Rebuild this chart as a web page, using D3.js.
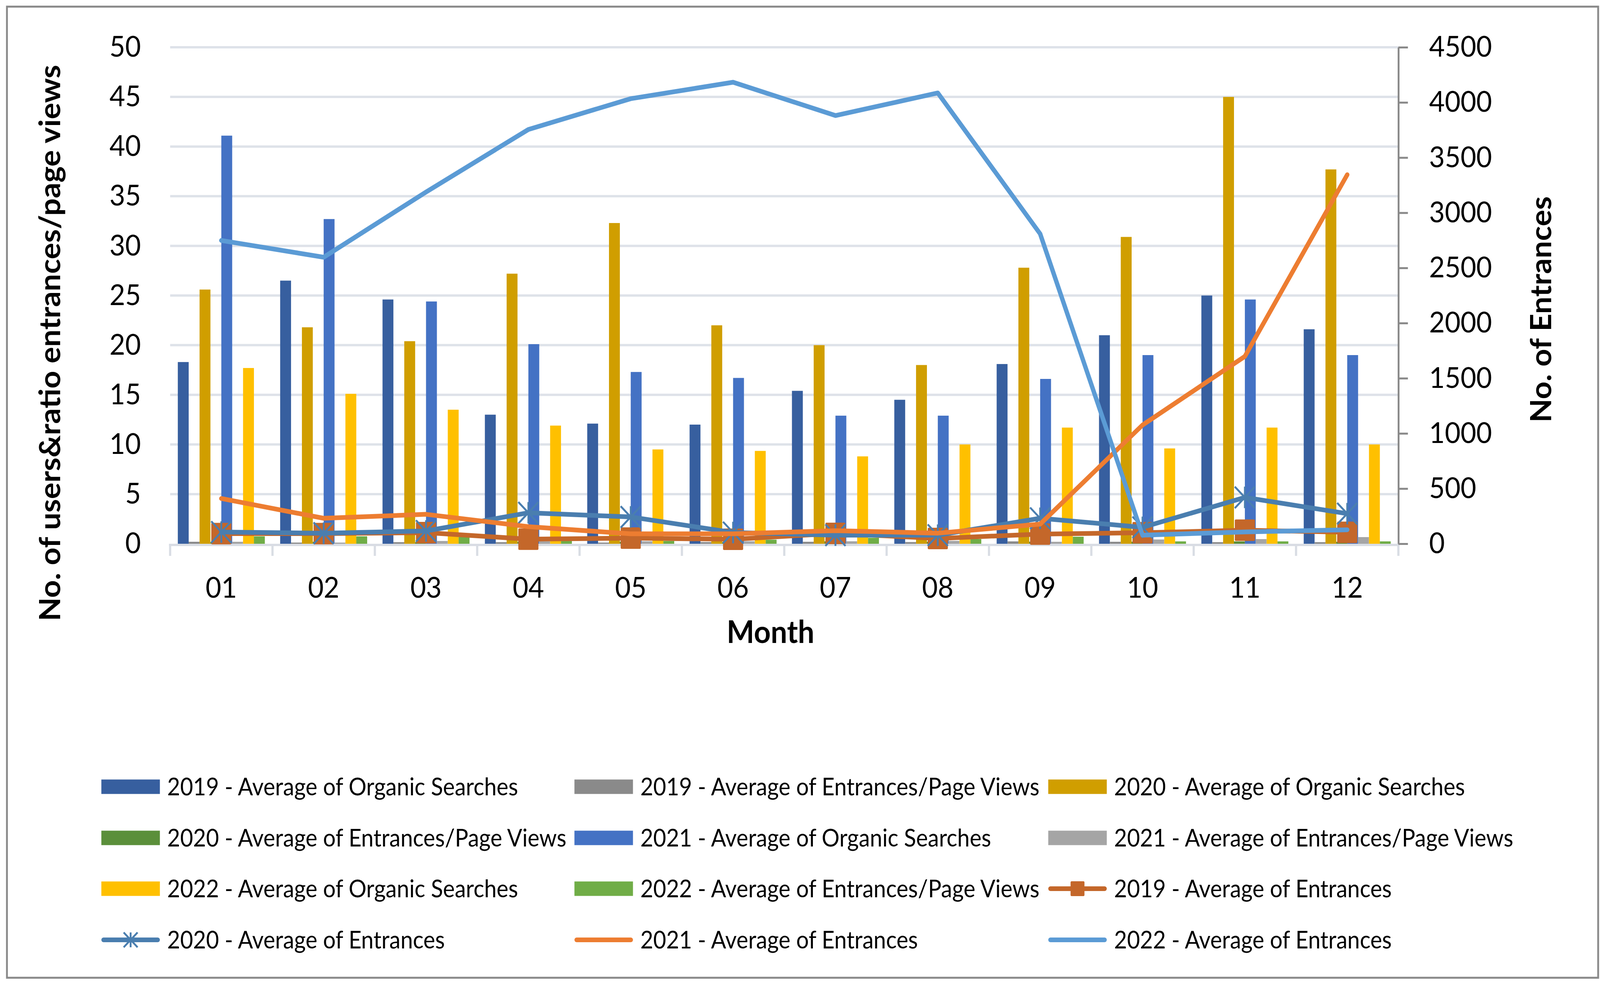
<!DOCTYPE html>
<html>
<head>
<meta charset="utf-8">
<script src="https://cdn.jsdelivr.net/npm/d3@7"></script>
<style>
    html, body { margin: 0; padding: 0; width: 100%; height: 100%; overflow: hidden; background: #fff; }
    #chart { width: 100vw; height: 100vh; }
    #chart svg { display: block; width: 100%; height: 100%; }
    text { font-family: Lato, "Open Sans", sans-serif; fill: #000; }
</style>
</head>
<body>
<div id="chart"></div>
<script>
// months on the x axis
const months = ["01", "02", "03", "04", "05", "06", "07", "08", "09", "10", "11", "12"];

// bars, left axis
const organic2019 = [18.3, 26.5, 24.6, 13.0, 12.1, 12.0, 15.4, 14.5, 18.1, 21.0, 25.0, 21.6];
const organic2020 = [25.6, 21.8, 20.4, 27.2, 32.3, 22.0, 20.0, 18.0, 27.8, 30.9, 45.0, 37.7];
const organic2021 = [41.1, 32.7, 24.4, 20.1, 17.3, 16.7, 12.9, 12.9, 16.6, 19.0, 24.6, 19.0];
const organic2022 = [17.7, 15.1, 13.5, 11.9, 9.5, 9.35, 8.8, 10.0, 11.7, 9.6, 11.7, 10.0];
const ratio2019 = [0.20, 0.12, 0.16, 0.16, 0.12, 0.17, 0.20, 0.17, 0.24, 0.20, 0.16, 0.16];
const ratio2020 = [0.17, 0.20, 0.17, 0.21, 0.21, 0.18, 0.25, 0.21, 0.21, 0.21, 0.24, 0.20];
const ratio2021 = [0.20, 0.12, 0.28, 0.25, 0.25, 0.25, 0.25, 0.29, 0.20, 0.43, 0.47, 0.67];
const ratio2022 = [0.75, 0.75, 0.67, 0.33, 0.28, 0.41, 0.60, 0.47, 0.71, 0.24, 0.24, 0.24];

// lines, right axis
const entrances2019 = [92, 92, 101, 42, 51, 41, 94, 48, 88, 100, 123, 104];
const entrances2020 = [106, 96, 116, 281, 243, 102, 78, 78, 231, 149, 420, 273];
const entrances2021 = [410, 231, 267, 155, 90, 90, 119, 96, 178, 1076, 1698, 3345];
const entrances2022 = [2749, 2597, 3188, 3755, 4034, 4183, 3881, 4086, 2809, 78, 107, 127];

const leftTicks = [0, 5, 10, 15, 20, 25, 30, 35, 40, 45, 50];
const rightTicks = [0, 500, 1000, 1500, 2000, 2500, 3000, 3500, 4000, 4500];

const barNames = [
    "2019 - Average of Organic Searches", "2019 - Average of Entrances/Page Views",
    "2020 - Average of Organic Searches", "2020 - Average of Entrances/Page Views",
    "2021 - Average of Organic Searches", "2021 - Average of Entrances/Page Views",
    "2022 - Average of Organic Searches", "2022 - Average of Entrances/Page Views"
];
const barValues = [organic2019, ratio2019, organic2020, ratio2020, organic2021, ratio2021, organic2022, ratio2022];
const barColors = ["#375F9F", "#8A8A8A", "#D09E00", "#5B8F3A", "#4472C4", "#A5A5A5", "#FFC000", "#70AD47"];

const lineNames = ["2019 - Average of Entrances", "2020 - Average of Entrances",
    "2021 - Average of Entrances", "2022 - Average of Entrances"];
const lineValues = [entrances2019, entrances2020, entrances2021, entrances2022];
const lineColors = ["#C4672A", "#4A7EAF", "#ED7D31", "#5B9BD5"];
const lineMarkers = ["square", "star", "none", "none"];

const width = 4373, height = 2519;
const margin = {top: 121, right: 551, bottom: 1127, left: 465};

// the drawing is laid out in picture pixels and stretched to fill the window
const svg = d3.select("#chart").append("svg")
    .attr("viewBox", `0 0 ${width} ${height}`)
    .attr("preserveAspectRatio", "none");

// outer frame
svg.append("rect")
    .attr("x", 19).attr("y", 17)
    .attr("width", width - 24).attr("height", height - 33)
    .attr("fill", "none")
    .attr("stroke", "#898989")
    .attr("stroke-width", 5);

// scales
let x0 = d3.scaleBand()
    .domain(months)
    .range([margin.left, width - margin.right])
    .paddingInner(0.15)
    .paddingOuter(0.075);

let x1 = d3.scaleBand()
    .domain(d3.range(barValues.length))
    .range([0, x0.bandwidth()]);

let yLeft = d3.scaleLinear()
    .domain([0, 50])
    .range([height - margin.bottom, margin.top]);

let yRight = d3.scaleLinear()
    .domain([0, 4500])
    .range([height - margin.bottom, margin.top]);

const base = yLeft(0);
const center = m => x0(m) + x0.bandwidth() / 2;

// gridlines
svg.append("g")
    .selectAll("line")
    .data(leftTicks.filter(d => d > 0))
    .enter().append("line")
    .attr("x1", margin.left)
    .attr("x2", width - margin.right)
    .attr("y1", d => yLeft(d))
    .attr("y2", d => yLeft(d))
    .attr("stroke", "#DEE2E9")
    .attr("stroke-width", 6);

// bars
barValues.forEach((values, s) => {
    svg.append("g")
        .selectAll("rect")
        .data(values)
        .enter().append("rect")
        .attr("x", (d, i) => x0(months[i]) + x1(s))
        .attr("y", d => yLeft(d))
        .attr("width", x1.bandwidth())
        .attr("height", d => base - yLeft(d))
        .attr("fill", barColors[s]);
});

// category axis line and tick marks
svg.append("line")
    .attr("x1", margin.left - 3)
    .attr("x2", width - margin.right)
    .attr("y1", base + 3)
    .attr("y2", base + 3)
    .attr("stroke", "#D9DDE4")
    .attr("stroke-width", 6);

svg.append("g")
    .selectAll("line")
    .data(d3.range(months.length + 1))
    .enter().append("line")
    .attr("x1", i => margin.left + i * x0.step())
    .attr("x2", i => margin.left + i * x0.step())
    .attr("y1", base)
    .attr("y2", base + 31)
    .attr("stroke", "#D9DDE4")
    .attr("stroke-width", 6);

// left axis labels
let leftAxis = svg.append("g")
    .attr("transform", `translate(${margin.left}, 0)`)
    .call(d3.axisLeft(yLeft).tickValues(leftTicks).tickSize(0).tickPadding(80));
leftAxis.select(".domain").remove();
leftAxis.selectAll("text").style("font-size", "74px").style("font-family", "Lato");

// right axis
let rightAxis = svg.append("g")
    .attr("transform", `translate(${width - margin.right}, 0)`)
    .call(d3.axisRight(yRight).tickValues(rightTicks).tickFormat(d3.format("d"))
        .tickSize(26).tickSizeOuter(0).tickPadding(58));
rightAxis.select(".domain").attr("stroke", "#898989").attr("stroke-width", 5);
rightAxis.selectAll(".tick line").attr("stroke", "#898989").attr("stroke-width", 5);
rightAxis.selectAll("text").style("font-size", "74px").style("font-family", "Lato");

// month labels
let bottomAxis = svg.append("g")
    .attr("transform", `translate(0, ${base})`)
    .call(d3.axisBottom(x0).tickSize(0).tickPadding(85));
bottomAxis.select(".domain").remove();
bottomAxis.selectAll("text").style("font-size", "74px").style("font-family", "Lato");

// axis titles
svg.append("text")
    .attr("transform", "translate(137, 878) rotate(-90)")
    .attr("text-anchor", "middle")
    .attr("dy", "0.35em")
    .style("font-size", "79px")
    .style("font-weight", "bold")
    .text("No. of users&ratio entrances/page views");

svg.append("text")
    .attr("transform", "translate(4212, 792) rotate(-90)")
    .attr("text-anchor", "middle")
    .attr("dy", "0.35em")
    .style("font-size", "79px")
    .style("font-weight", "bold")
    .text("No. of Entrances");

svg.append("text")
    .attr("x", 2106)
    .attr("y", 1646)
    .attr("text-anchor", "middle")
    .style("font-size", "80px")
    .style("font-weight", "bold")
    .text("Month");

// marker drawing
function drawMarker(g, type, cx, cy, size, color) {
    let h = size / 2;
    if (type === "square") {
        g.append("rect")
            .attr("x", cx - h).attr("y", cy - h)
            .attr("width", size).attr("height", size)
            .attr("rx", 3)
            .attr("fill", color);
    } else if (type === "star") {
        let path = d3.path();
        path.moveTo(cx, cy - h); path.lineTo(cx, cy + h);
        path.moveTo(cx - h, cy - h); path.lineTo(cx + h, cy + h);
        path.moveTo(cx + h, cy - h); path.lineTo(cx - h, cy + h);
        g.append("path")
            .attr("d", path.toString())
            .attr("fill", "none")
            .attr("stroke", color)
            .attr("stroke-width", 5);
    }
}

// lines
let line = d3.line()
    .x((d, i) => center(months[i]))
    .y(d => yRight(d));

lineValues.forEach((values, s) => {
    let g = svg.append("g");
    g.append("path")
        .datum(values)
        .attr("d", line)
        .attr("fill", "none")
        .attr("stroke", lineColors[s])
        .attr("stroke-width", 12)
        .attr("stroke-linejoin", "round")
        .attr("stroke-linecap", "round");
    values.forEach((v, i) => drawMarker(g, lineMarkers[s], center(months[i]), yRight(v), 55, lineColors[s]));
});

// legend
const legendCols = [277, 1570, 2865];
const legendRows = [2014, 2145, 2275, 2406];
const legendItems = barNames.map((n, i) => ({name: n, type: "bar", color: barColors[i]}))
    .concat(lineNames.map((n, i) => ({name: n, type: "line", color: lineColors[i], marker: lineMarkers[i]})));

let legend = svg.append("g");
legendItems.forEach((item, i) => {
    let lx = legendCols[i % 3];
    let ly = legendRows[Math.floor(i / 3)];
    let g = legend.append("g");
    if (item.type === "bar") {
        g.append("rect")
            .attr("x", lx).attr("y", ly - 18.5)
            .attr("width", 160).attr("height", 37)
            .attr("fill", item.color);
    } else {
        g.append("line")
            .attr("x1", lx + 6).attr("x2", lx + 154)
            .attr("y1", ly).attr("y2", ly)
            .attr("stroke", item.color)
            .attr("stroke-width", 12)
            .attr("stroke-linecap", "round");
        drawMarker(g, item.marker, lx + 80, ly, 38, item.color);
    }
    g.append("text")
        .attr("x", lx + 180)
        .attr("y", ly)
        .attr("dy", "0.36em")
        .style("font-size", "61px")
        .text(item.name);
});
</script>
</body>
</html>
